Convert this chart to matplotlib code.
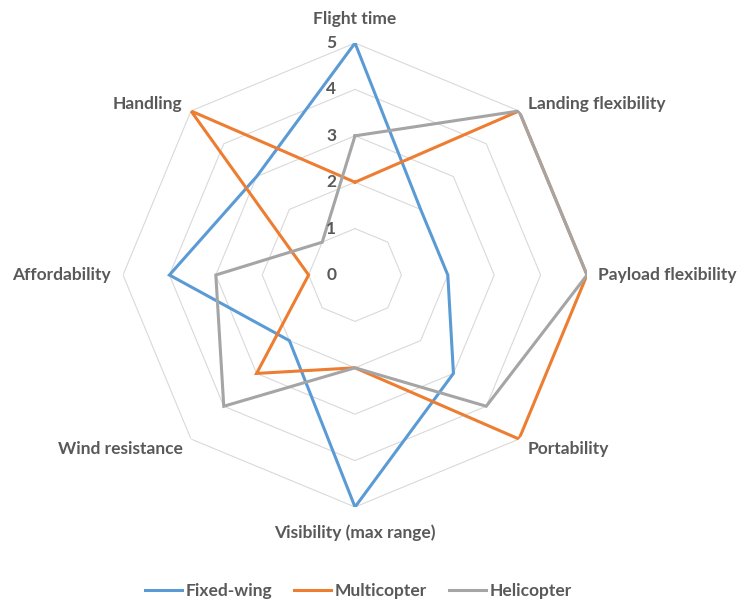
import numpy as np
import matplotlib.pyplot as plt

plt.rcParams['font.family'] = ['Lato', 'DejaVu Sans']

# Criteria, clockwise from the top
criteria = ["Flight time", "Landing flexibility", "Payload flexibility", "Portability",
            "Visibility (max range)", "Wind resistance", "Affordability", "Handling"]

fixed_wing = [5, 2, 2, 3, 5, 2, 4, 3]
multicopter = [2, 5, 5, 5, 2, 3, 1, 5]
helicopter = [3, 5, 5, 4, 2, 4, 3, 1]

series_names = ["Fixed-wing", "Multicopter", "Helicopter"]
series_colors = ["#5B9BD5", "#ED7D31", "#A5A5A5"]
levels = [0, 1, 2, 3, 4, 5]

text_color = "#595959"
grid_color = "#D9D9D9"

n = len(criteria)
angles = np.linspace(0, 2 * np.pi, n, endpoint=False)
closed = np.append(angles, angles[0])

fig = plt.figure(figsize=(7.42, 6), dpi=100)
ax = fig.add_axes([0.1658, 0.155, 0.6253, 0.7733], polar=True)
ax.set_theta_offset(np.pi / 2)
ax.set_theta_direction(-1)
ax.set_ylim(0, 5)
ax.axis("off")

# octagonal gridlines
for lv in levels[1:]:
    ax.plot(closed, [lv] * (n + 1), color=grid_color, lw=0.8, zorder=1)

for name, vals, col in zip(series_names, [fixed_wing, multicopter, helicopter], series_colors):
    ax.plot(closed, vals + vals[:1], color=col, lw=2.2, label=name, zorder=3,
            solid_joinstyle="miter")

# value labels along the top spoke
for lv in levels:
    ax.annotate(str(lv), xy=(0, lv), xytext=(-17, 0), textcoords="offset points",
                ha="center", va="center", fontsize=12.5, fontweight="bold",
                color=text_color)

# category labels, offsets in points from each outer vertex
offsets = [(0, 17, "center"), (6.5, 5, "left"), (8, 0, "left"), (6, -7.5, "left"),
           (0, -18.5, "center"), (-6, -7.5, "right"), (-8.5, 0, "right"),
           (-6.5, 5, "right")]
for ang, label, (dx, dy, ha) in zip(angles, criteria, offsets):
    ax.annotate(label, xy=(ang, 5), xytext=(dx, dy), textcoords="offset points",
                ha=ha, va="center", fontsize=12.5, fontweight="bold",
                color=text_color, annotation_clip=False)

leg = fig.legend(loc="center", bbox_to_anchor=(0.483, 0.015), ncol=3, frameon=False,
                 handlelength=2.1, handletextpad=0.2, columnspacing=1.3,
                 fontsize=12.5)
for t in leg.get_texts():
    t.set_color(text_color)
    t.set_fontweight("bold")

fig.savefig("out.png", dpi=100)
